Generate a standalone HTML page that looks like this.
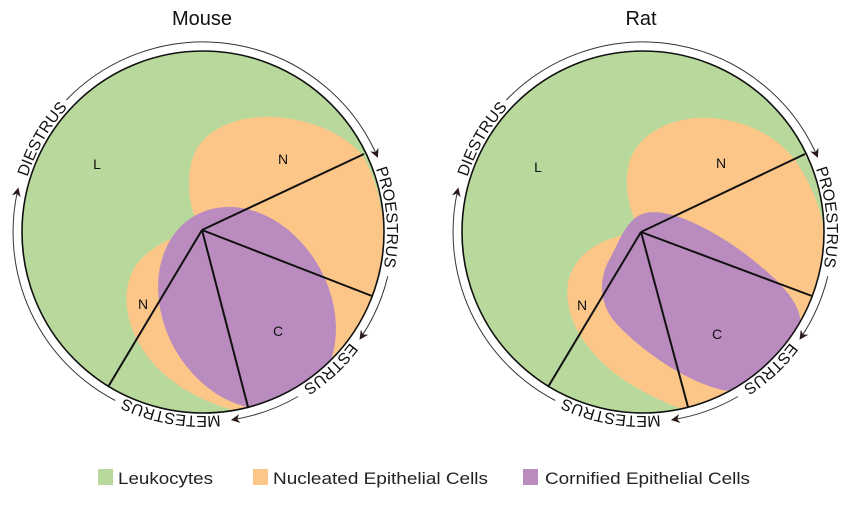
<!DOCTYPE html>
<html><head><meta charset="utf-8"><style>
html,body{margin:0;padding:0;background:#fff;}
svg{display:block;font-family:"Liberation Sans",Arial,sans-serif;}
</style></head><body>
<svg width="856" height="507" viewBox="0 0 856 507" xmlns="http://www.w3.org/2000/svg">
<defs>
<clipPath id="cm"><circle cx="203" cy="232" r="181"/></clipPath>
<clipPath id="cr"><circle cx="643" cy="232" r="181"/></clipPath>
<marker id="ah" viewBox="0 0 10 10" refX="8" refY="5" markerWidth="9" markerHeight="9" markerUnits="userSpaceOnUse" orient="auto">
<path d="M0,0 L10,5 L0,10 L3,5 Z" fill="#2a1a1a"/></marker>
<path id="tP" d="M322.3,91.9 A184,184 0 0 1 343.1,351.3"/>
<path id="tE" d="M386.9,238.4 A184,184 0 0 1 196.6,415.9"/>
<path id="tM" d="M308.5,382.7 A184,184 0 0 1 52.3,337.5"/>
<path id="tD" d="M25.3,279.6 A184,184 0 0 1 155.4,54.3"/>
<g id="ring">
<g fill="none" stroke="#333" stroke-width="1" marker-end="url(#ah)">
<path d="M66.3,100 A190,190 0 0 1 377.2,156.2"/>
<path d="M387.8,276.3 A190,190 0 0 1 360.5,338.2"/>
<path d="M298,396.5 A190,190 0 0 1 232.7,419.7"/>
<path d="M115.3,400.5 A190,190 0 0 1 17.9,189.3"/>
</g>
<g font-size="16" fill="#111" text-anchor="middle">
<text><textPath href="#tP" startOffset="50%">PROESTRUS</textPath></text>
<text><textPath href="#tE" startOffset="50%">ESTRUS</textPath></text>
<text><textPath href="#tM" startOffset="50%">METESTRUS</textPath></text>
<text><textPath href="#tD" startOffset="50%">DIESTRUS</textPath></text>
</g>
</g>
</defs>

<!-- Mouse -->
<text x="202" y="25" font-size="20" text-anchor="middle" fill="#111">Mouse</text>
<g clip-path="url(#cm)">
<rect x="0" y="0" width="430" height="450" fill="#b8d99b"/>
<path d="M202,230 C188,212 184,175 196,150 C210,125 245,115 275,117 C315,120 345,135 362,155 C375,175 382,205 386,240 L392,420 L240,412 C200,402 160,380 140,345 C122,315 122,280 140,260 C158,242 180,233 202,230 Z" fill="#fcc688"/>
<ellipse cx="0" cy="0" rx="106" ry="83" transform="translate(247,308) rotate(61)" fill="#b98bbf"/>
</g>
<circle cx="203" cy="232" r="181" fill="none" stroke="#111" stroke-width="1.6"/>
<g stroke="#111" stroke-width="2" fill="none">
<line x1="202" y1="230" x2="364" y2="154"/>
<line x1="202" y1="230" x2="372" y2="296"/>
<line x1="202" y1="230" x2="248" y2="407"/>
<line x1="202" y1="230" x2="108" y2="387"/>
</g>
<g font-size="14" fill="#111" text-anchor="middle">
<text x="97" y="169">L</text><text x="283" y="164">N</text>
<text x="143" y="309">N</text><text x="278" y="336">C</text>
</g>
<use href="#ring"/>

<!-- Rat -->
<text x="641" y="25" font-size="20" text-anchor="middle" fill="#111">Rat</text>
<g clip-path="url(#cr)">
<rect x="430" y="0" width="426" height="450" fill="#b8d99b"/>
<path d="M641,232 C630,215 622,185 630,160 C642,128 680,116 710,118 C745,120 775,135 795,160 C812,185 822,210 826,240 L832,420 L690,412 C650,398 615,378 595,355 C572,330 562,300 570,275 C580,250 605,236 641,232 Z" fill="#fcc688"/>
<path d="M640,215 C660,205 700,222 740,250 C780,280 805,305 800,330 C795,360 760,388 728,391 C690,385 640,350 615,322 C598,302 600,278 608,262 C618,245 625,222 640,215 Z" fill="#b98bbf"/>
</g>
<circle cx="643" cy="232" r="181" fill="none" stroke="#111" stroke-width="1.6"/>
<g stroke="#111" stroke-width="2" fill="none">
<line x1="641" y1="232" x2="805" y2="154"/>
<line x1="641" y1="232" x2="812" y2="296"/>
<line x1="641" y1="232" x2="688" y2="407"/>
<line x1="641" y1="232" x2="548" y2="387"/>
</g>
<g font-size="14" fill="#111" text-anchor="middle">
<text x="538" y="172">L</text><text x="721" y="168">N</text>
<text x="582" y="310">N</text><text x="717" y="339">C</text>
</g>
<use href="#ring" transform="translate(440,0)"/>

<!-- Legend -->
<rect x="98" y="469" width="15" height="16" fill="#b8d99b"/>
<text x="118" y="484" font-size="17" fill="#222" textLength="95" lengthAdjust="spacingAndGlyphs">Leukocytes</text>
<rect x="253" y="469" width="15" height="16" fill="#fcc688"/>
<text x="273" y="484" font-size="17" fill="#222" textLength="215" lengthAdjust="spacingAndGlyphs">Nucleated Epithelial Cells</text>
<rect x="523" y="469" width="15" height="16" fill="#b98bbf"/>
<text x="545" y="484" font-size="17" fill="#222" textLength="205" lengthAdjust="spacingAndGlyphs">Cornified Epithelial Cells</text>
</svg>
</body></html>
